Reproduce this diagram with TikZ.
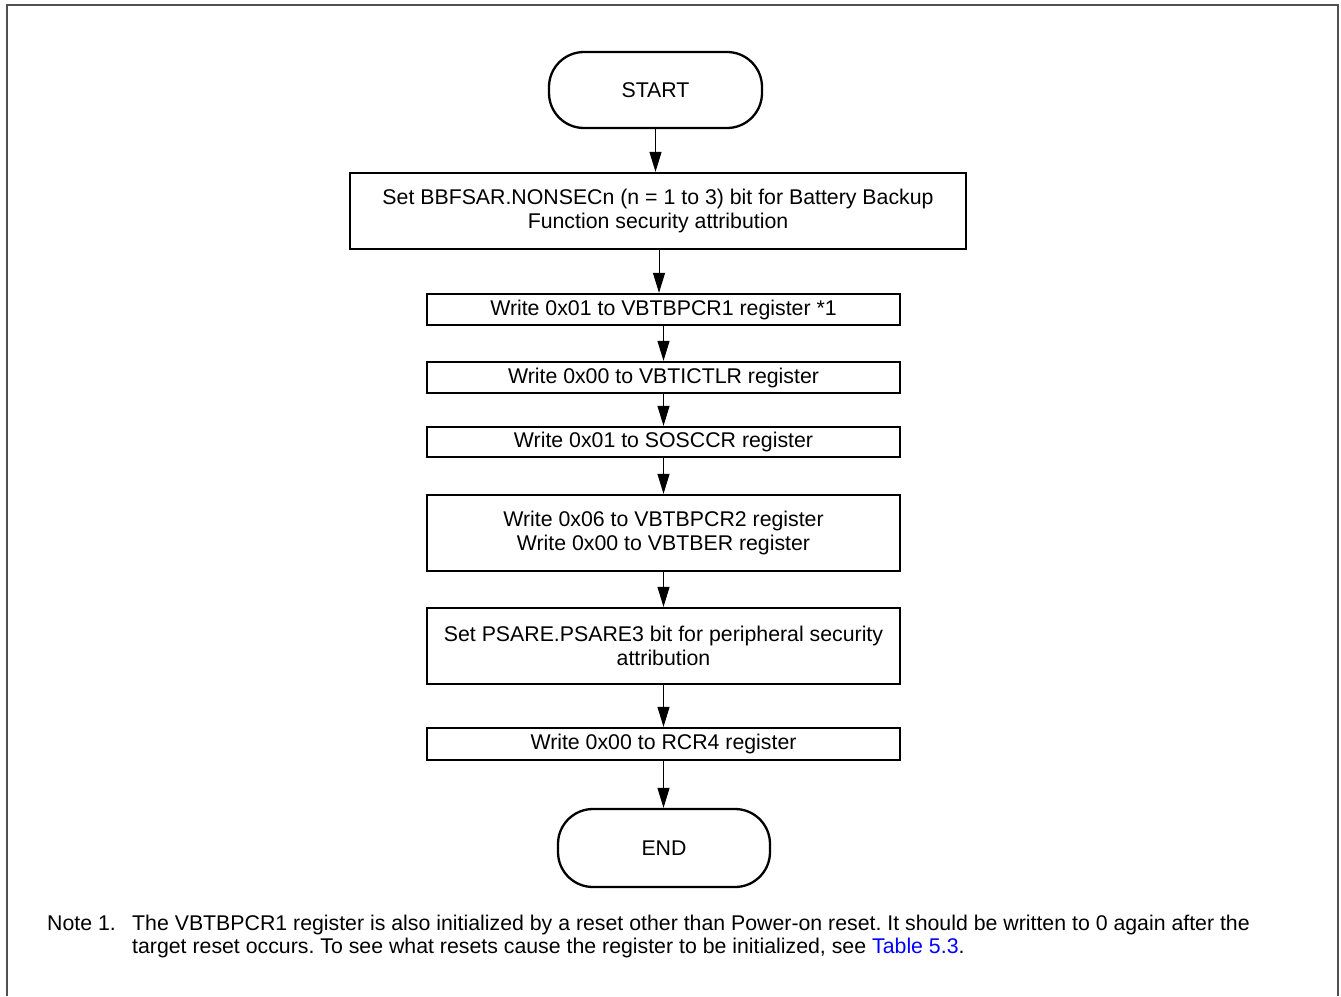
\documentclass[tikz,border=0pt]{standalone}
\usepackage{fontspec}
\setmainfont{Liberation Sans}
\usetikzlibrary{arrows.meta}
\definecolor{framegray}{RGB}{80,80,80}
\definecolor{linkblue}{RGB}{0,0,255}
\frenchspacing
\begin{document}
\begin{tikzpicture}[x=1pt,y=-1pt,
  txt/.style={font=\fontsize{21.3}{24.5}\selectfont},
  box/.style={txt, draw=black, line width=2.3pt, minimum width=473pt, inner sep=0pt, align=center},
  term/.style={txt, draw=black, line width=2.3pt, rounded corners=35pt, minimum width=213pt, minimum height=76pt, inner sep=0pt},
  arr/.style={draw=black, line width=1pt, -{Triangle[length=20pt,width=12pt]}},
  frame/.style={draw=framegray, line width=2pt},
  notetxt/.style={font=\fontsize{21.3}{23}\selectfont, inner sep=0pt, anchor=base west}]
\useasboundingbox (0,0) rectangle (1341,996);
\draw[frame] (7,996) -- (7,5) -- (1338,5) -- (1338,996);

\node[term] (start) at (655.5,90) {START};
\node[box, minimum width=616pt, minimum height=76pt] (b1) at (658,211)
  {Set BBFSAR.NONSECn (n = 1 to 3) bit for Battery Backup\\Function security attribution};
\node[box, minimum height=31pt] (b2) at (663.5,309.5) {Write 0x01 to VBTBPCR1 register *1};
\node[box, minimum height=31pt] (b3) at (663.5,377.5) {Write 0x00 to VBTICTLR register};
\node[box, minimum height=30pt] (b4) at (663.5,442) {Write 0x01 to SOSCCR register};
\node[box, minimum height=76pt] (b5) at (663.5,533) {Write 0x06 to VBTBPCR2 register\\Write 0x00 to VBTBER register};
\node[box, minimum height=76pt] (b6) at (663.5,646) {Set PSARE.PSARE3 bit for peripheral security\\attribution};
\node[box, minimum height=32pt] (b7) at (663.5,744) {Write 0x00 to RCR4 register};
\node[term, minimum width=212pt, minimum height=78pt] (end) at (664,848) {END};

\draw[arr] (start.south) -- (start.south |- b1.north);
\draw[arr] ([xshift=1pt]b1.south) -- ([xshift=1pt]b1.south |- b2.north);
\draw[arr] (b2) -- (b3);
\draw[arr] (b3) -- (b4);
\draw[arr] (b4) -- (b5);
\draw[arr] (b5) -- (b6);
\draw[arr] (b6) -- (b7);
\draw[arr] (b7.south) -- (b7.south |- end.north);

\node[notetxt] (notelbl) at (47,930) {Note 1.};
\node[notetxt] (note1) at (132,930) {The VBTBPCR1 register is also initialized by a reset other than Power-on reset. It should be written to 0 again after the};
\node[notetxt] (note2) at (132,953) {target reset occurs. To see what resets cause the register to be initialized, see \textcolor{linkblue}{Table 5.3}.};
\end{tikzpicture}
\end{document}
